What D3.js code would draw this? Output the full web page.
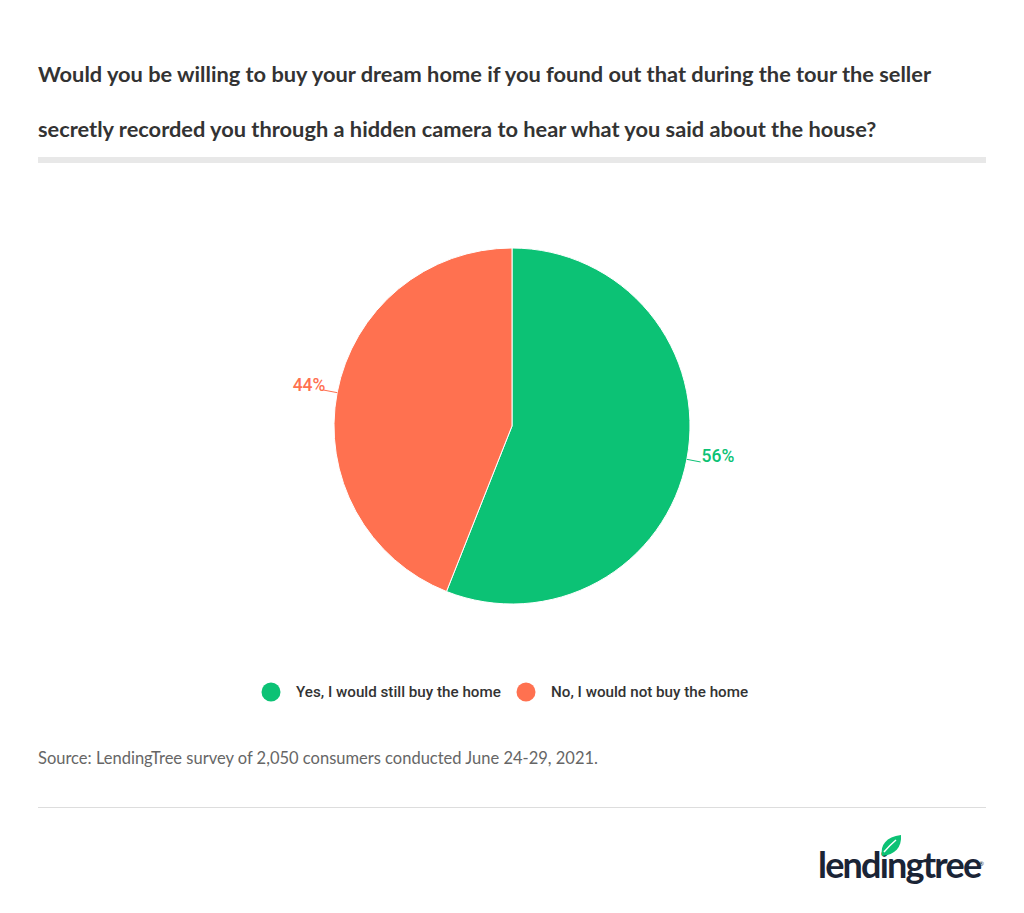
<!DOCTYPE html>
<html><head><meta charset="utf-8">
<script src="https://cdn.jsdelivr.net/npm/d3@7"></script>
<style>body{margin:0;background:#fff;}svg{display:block;}</style>
</head><body>
<script>
const categories = ["Yes, I would still buy the home", "No, I would not buy the home"];
const values = [56, 44];
const colors = ["#0cc275", "#ff7150"];
const titleLines = ["Would you be willing to buy your dream home if you found out that during the tour the seller",
  "secretly recorded you through a hidden camera to hear what you said about the house?"];
const sourceText = "Source: LendingTree survey of 2,050 consumers conducted June 24-29, 2021.";

const W = 1024, H = 913;
const svg = d3.select("body").append("svg").attr("width", W).attr("height", H);
svg.append("rect").attr("width", W).attr("height", H).attr("fill", "#fff");

svg.selectAll("text.title").data(titleLines).join("text")
  .attr("x", 38).attr("y", (d, i) => 82 + i * 55)
  .attr("font-family", "Lato, sans-serif").attr("font-weight", 700)
  .attr("font-size", 21.8).attr("fill", "#333").text(d => d);

svg.append("rect").attr("x", 38).attr("y", 157).attr("width", 948).attr("height", 6).attr("fill", "#e8e8e8");

const cx = 512, cy = 426, r = 178;
const g = svg.append("g").attr("transform", `translate(${cx},${cy})`);
const pie = d3.pie().sort(null).value(d => d)(values);
const arc = d3.arc().innerRadius(0).outerRadius(r);
g.selectAll("path").data(pie).join("path")
  .attr("d", arc).attr("fill", (d, i) => colors[i])
  .attr("stroke", "#fff").attr("stroke-width", 1);

pie.forEach((d, i) => {
  const a = (d.startAngle + d.endAngle) / 2;
  const sx = Math.sin(a), sy = -Math.cos(a);
  const p1 = [sx * r, sy * r];
  const right = sx > 0;
  const p2 = [sx * (r + 14), sy * (r + 14)];
  g.append("path").attr("d", `M${p1[0]},${p1[1]}L${p2[0]},${p2[1]}`)
    .attr("stroke", colors[i]).attr("stroke-width", 1).attr("fill", "none");
  g.append("text").attr("x", p2[0] + (right ? 1 : 2)).attr("y", p2[1] + (right ? 0 : 1))
    .attr("text-anchor", right ? "start" : "end")
    .attr("font-family", "Roboto, sans-serif").attr("font-weight", 500)
    .attr("font-size", 17.5).attr("fill", colors[i]).text(d.data + "%");
});

// legend
const leg = svg.append("g");
const legX = [271, 526];
categories.forEach((c, i) => {
  leg.append("circle").attr("cx", legX[i]).attr("cy", 692).attr("r", 9.5).attr("fill", colors[i]);
  leg.append("text").attr("x", legX[i] + 25).attr("y", 697)
    .attr("font-family", "Roboto, sans-serif").attr("font-weight", 500)
    .attr("font-size", 15.2).attr("fill", "#333").text(c);
});

svg.append("text").attr("x", 38).attr("y", 764)
  .attr("font-family", "Lato, sans-serif").attr("font-size", 16.5).attr("fill", "#666").text(sourceText);

svg.append("rect").attr("x", 38).attr("y", 807).attr("width", 948).attr("height", 1).attr("fill", "#ddd");

// logo
svg.append("text").attr("x", 818).attr("y", 878)
  .attr("font-family", "Lato, sans-serif").attr("font-weight", 700)
  .attr("font-size", 36).attr("letter-spacing", -1.8).attr("fill", "#1a2436").text("lendingtree");
svg.append("text").attr("x", 979).attr("y", 866).attr("font-family", "Lato, sans-serif").attr("font-size", 6).attr("fill", "#1a2436").text("®");
svg.append("path")
  .attr("d", "M882,856 C880,845 886,837 901,835 C902,847 895,855 882,856 Z")
  .attr("fill", "#0cc275");
svg.append("path").attr("d", "M884,852 Q890,845 896,840").attr("stroke", "#fff").attr("stroke-width", 1.5).attr("fill", "none");
</script>
</body></html>
